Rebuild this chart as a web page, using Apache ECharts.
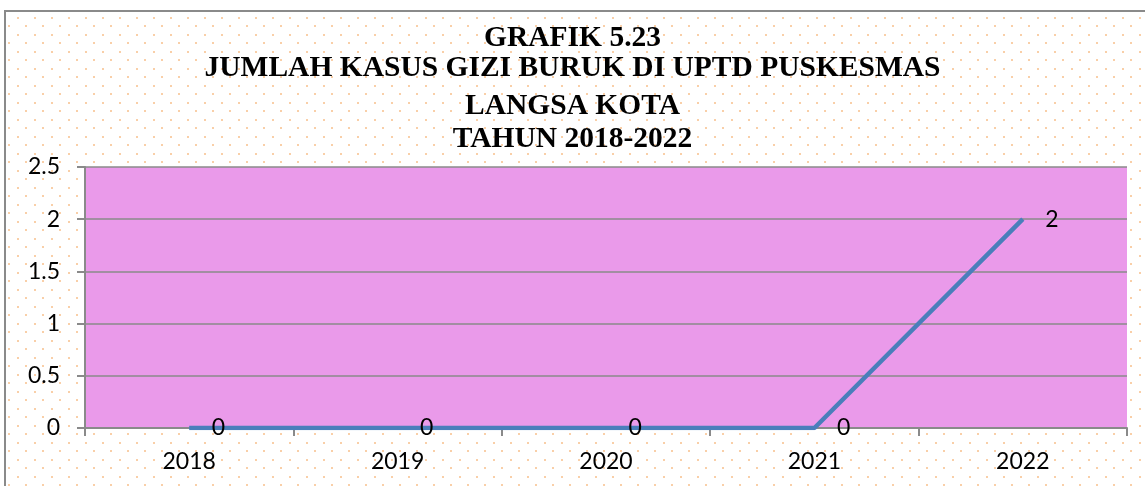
<!DOCTYPE html>
<html>
<head>
<meta charset="utf-8">
<title>Grafik 5.23</title>
<script src="https://cdn.jsdelivr.net/npm/echarts@6/dist/echarts.min.js"></script>
<style>
	html, body { margin: 0; padding: 0; background: #fff; }
	#grafik { width: 1145px; height: 486px; }
</style>
</head>
<body>
<div id="grafik"></div>
<script>
// data grafik
var tahunList = ['2018', '2019', '2020', '2021', '2022'];
var jumlahKasus = [0, 0, 0, 0, 2];
var judulList = ['GRAFIK 5.23', 'JUMLAH KASUS GIZI BURUK DI UPTD PUSKESMAS', 'LANGSA KOTA', 'TAHUN 2018-2022'];
var judulTop = [23, 53, 91, 124];

var grafikChart;

// pola titik-titik untuk latar
function buatPola() {
	var c = document.createElement('canvas');
	c.width = 17;
	c.height = 17;
	var ctx = c.getContext('2d');
	ctx.fillStyle = '#ffffff';
	ctx.fillRect(0, 0, 17, 17);
	ctx.fillStyle = '#f9cfa8';
	ctx.fillRect(0, 0, 2, 2);
	ctx.fillRect(8, 8, 2, 2);
	return c;
}

function buatJudul() {
	var list = [];
	for (var i = 0; i < judulList.length; i++) {
		list.push({
			text: judulList[i],
			left: 'center',
			top: judulTop[i],
			padding: 0,
			textStyle: {
				fontFamily: '"Liberation Serif", "DejaVu Serif", serif',
				fontWeight: 'bold',
				fontSize: 29.5,
				color: '#000'
			}
		});
	}
	return list;
}

function grafik() {
	grafikChart = echarts.init(document.getElementById('grafik'), null, {renderer: 'canvas'});
	var abu = '#8a8a8a';
	var option = {
		backgroundColor: '#fff',
		animation: false,
		title: buatJudul(),
		graphic: [{
			type: 'rect',
			z: -10,
			shape: {x: 5, y: 11, width: 1160, height: 500},
			style: {
				fill: {image: buatPola(), repeat: 'repeat'},
				stroke: abu,
				lineWidth: 2
			}
		}],
		grid: {
			show: true,
			left: 85,
			right: 18,
			top: 167,
			bottom: 58,
			backgroundColor: '#ea9aea',
			borderWidth: 0
		},
		xAxis: {
			type: 'category',
			data: tahunList,
			boundaryGap: true,
			axisLine: {lineStyle: {color: abu, width: 2}},
			axisTick: {show: true, length: 8, lineStyle: {color: abu, width: 2}},
			axisLabel: {
				margin: 22,
				fontFamily: 'Lato',
				fontSize: 23,
				color: '#000'
			}
		},
		yAxis: {
			type: 'value',
			min: 0,
			max: 2.5,
			interval: 0.5,
			axisLine: {show: true, lineStyle: {color: abu, width: 2}},
			axisTick: {show: true, length: 8, lineStyle: {color: abu, width: 2}},
			splitLine: {lineStyle: {color: abu, width: 1.5}},
			axisLabel: {
				margin: 25,
				fontFamily: 'Lato',
				fontSize: 23,
				color: '#000'
			}
		},
		series: [{
			name: 'Jumlah Kasus',
			type: 'line',
			data: jumlahKasus,
			symbol: 'circle',
			symbolSize: 1,
			itemStyle: {color: '#4a7ebb'},
			lineStyle: {color: '#4a7ebb', width: 4.5},
			label: {
				show: true,
				position: 'right',
				distance: 22,
				fontFamily: 'Lato',
				fontSize: 23,
				color: '#000'
			}
		}]
	};
	grafikChart.setOption(option);
	return grafikChart;
}

grafik();
</script>
</body>
</html>
